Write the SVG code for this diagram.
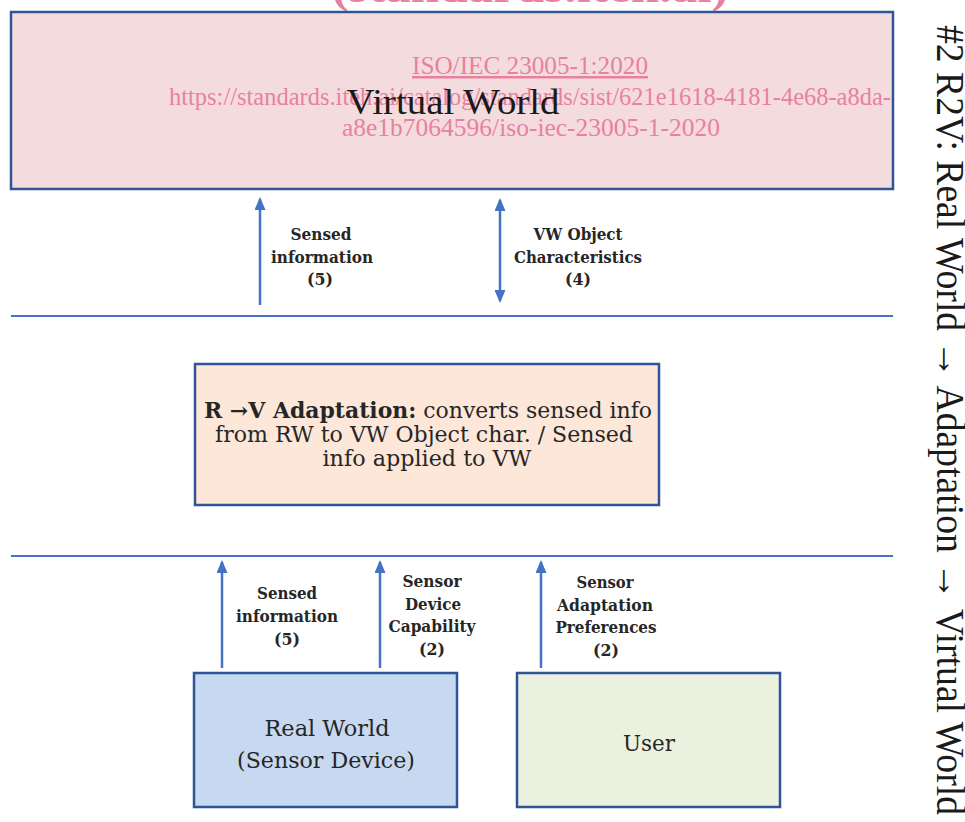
<svg xmlns="http://www.w3.org/2000/svg" width="965" height="822" viewBox="0 0 965 822">
<style>
.box{stroke:#2F5597;stroke-width:2.5}
.conn{stroke:#4472C4;stroke-width:2.5;fill:none}
.sep{stroke:#4472C4;stroke-width:2}
.lbl{font-family:"DejaVu Serif","Liberation Serif",serif;font-weight:bold;font-size:16px;fill:#262626;text-anchor:middle}
.body{font-family:"DejaVu Serif","Liberation Serif",serif;fill:#262626;text-anchor:middle}
.wm{font-family:"Liberation Serif",serif;fill:#E8819F;text-anchor:middle}
</style>
<defs>
<marker id="ah" viewBox="0 0 13 11" refX="11" refY="5.5" markerWidth="13" markerHeight="11" markerUnits="userSpaceOnUse" orient="auto-start-reverse">
<path d="M0,0 L13,5.5 L0,11 z" fill="#4472C4"/>
</marker>
</defs>
<rect width="965" height="822" fill="#FFFFFF"/>

<text class="wm" x="530" y="2" font-size="46" font-weight="bold" textLength="397" lengthAdjust="spacingAndGlyphs">(standards.iteh.ai)</text>

<g id="virtual-world">
<rect class="box" x="11" y="12" width="882" height="177" fill="#F4DCDE"/>
<text class="wm" x="530" y="74" font-size="25" text-decoration="underline" textLength="236" lengthAdjust="spacingAndGlyphs">ISO/IEC 23005-1:2020</text>
<text class="wm" x="530" y="105" font-size="25" textLength="722" lengthAdjust="spacingAndGlyphs">https://standards.iteh.ai/catalog/standards/sist/621e1618-4181-4e68-a8da-</text>
<text class="wm" x="531" y="136" font-size="25" textLength="378" lengthAdjust="spacingAndGlyphs">a8e1b7064596/iso-iec-23005-1-2020</text>
<text x="453" y="114" font-family="'Liberation Serif',serif" font-size="35" fill="#1A1A1A" text-anchor="middle" textLength="213" lengthAdjust="spacingAndGlyphs">Virtual World</text>
</g>

<g id="separators">
<line class="sep" x1="11" y1="316" x2="893" y2="316"/>
<line class="sep" x1="11" y1="556" x2="893" y2="556"/>
</g>

<g id="adaptation">
<rect class="box" x="195" y="364" width="464" height="141" fill="#FCE7D9"/>
<text class="body" x="428" y="418" font-size="21.5" textLength="448" lengthAdjust="spacingAndGlyphs"><tspan font-weight="bold">R →V Adaptation:</tspan> converts sensed info</text>
<text class="body" x="424" y="442" font-size="21.5" textLength="418" lengthAdjust="spacingAndGlyphs">from RW to VW Object char. / Sensed</text>
<text class="body" x="427" y="466" font-size="21.5" textLength="209" lengthAdjust="spacingAndGlyphs">info applied to VW</text>
</g>

<g id="real-world">
<rect class="box" x="194" y="673" width="263" height="134" fill="#C6D9F0"/>
<text class="body" x="327" y="736" font-size="23" textLength="125" lengthAdjust="spacingAndGlyphs">Real World</text>
<text class="body" x="326" y="768" font-size="23" textLength="178" lengthAdjust="spacingAndGlyphs">(Sensor Device)</text>
</g>

<g id="user">
<rect class="box" x="517" y="673" width="263" height="134" fill="#EBF1DF"/>
<text class="body" x="649" y="751" font-size="23" textLength="52" lengthAdjust="spacingAndGlyphs">User</text>
</g>

<g id="connectors">
<line class="conn" x1="260" y1="305" x2="260" y2="199" marker-end="url(#ah)"/>
<line class="conn" x1="500" y1="200" x2="500" y2="301" marker-start="url(#ah)" marker-end="url(#ah)"/>
<line class="conn" x1="222" y1="668" x2="222" y2="562" marker-end="url(#ah)"/>
<line class="conn" x1="380" y1="668" x2="380" y2="562" marker-end="url(#ah)"/>
<line class="conn" x1="541" y1="668" x2="541" y2="562" marker-end="url(#ah)"/>
</g>

<g id="labels">
<text class="lbl" x="321" y="240" textLength="61" lengthAdjust="spacingAndGlyphs">Sensed</text>
<text class="lbl" x="322" y="263" textLength="102" lengthAdjust="spacingAndGlyphs">information</text>
<text class="lbl" x="320" y="285" textLength="26" lengthAdjust="spacingAndGlyphs">(5)</text>

<text class="lbl" x="578" y="240" textLength="89" lengthAdjust="spacingAndGlyphs">VW Object</text>
<text class="lbl" x="578" y="263" textLength="128" lengthAdjust="spacingAndGlyphs">Characteristics</text>
<text class="lbl" x="578" y="285" textLength="26" lengthAdjust="spacingAndGlyphs">(4)</text>

<text class="lbl" x="287" y="599" textLength="60" lengthAdjust="spacingAndGlyphs">Sensed</text>
<text class="lbl" x="287" y="622" textLength="102" lengthAdjust="spacingAndGlyphs">information</text>
<text class="lbl" x="287" y="645" textLength="26" lengthAdjust="spacingAndGlyphs">(5)</text>

<text class="lbl" x="432" y="587" textLength="59" lengthAdjust="spacingAndGlyphs">Sensor</text>
<text class="lbl" x="433" y="610" textLength="56" lengthAdjust="spacingAndGlyphs">Device</text>
<text class="lbl" x="432" y="632" textLength="87" lengthAdjust="spacingAndGlyphs">Capability</text>
<text class="lbl" x="432" y="655" textLength="26" lengthAdjust="spacingAndGlyphs">(2)</text>

<text class="lbl" x="605" y="588" textLength="57" lengthAdjust="spacingAndGlyphs">Sensor</text>
<text class="lbl" x="605" y="611" textLength="96" lengthAdjust="spacingAndGlyphs">Adaptation</text>
<text class="lbl" x="606" y="633" textLength="101" lengthAdjust="spacingAndGlyphs">Preferences</text>
<text class="lbl" x="606" y="656" textLength="26" lengthAdjust="spacingAndGlyphs">(2)</text>
</g>

<text transform="translate(937,25) rotate(90)" x="0" y="0" font-family="'Liberation Serif',serif" font-size="40" fill="#1A1A1A" textLength="790" lengthAdjust="spacingAndGlyphs">#2 R2V: Real World → Adaptation → Virtual World</text>
</svg>
